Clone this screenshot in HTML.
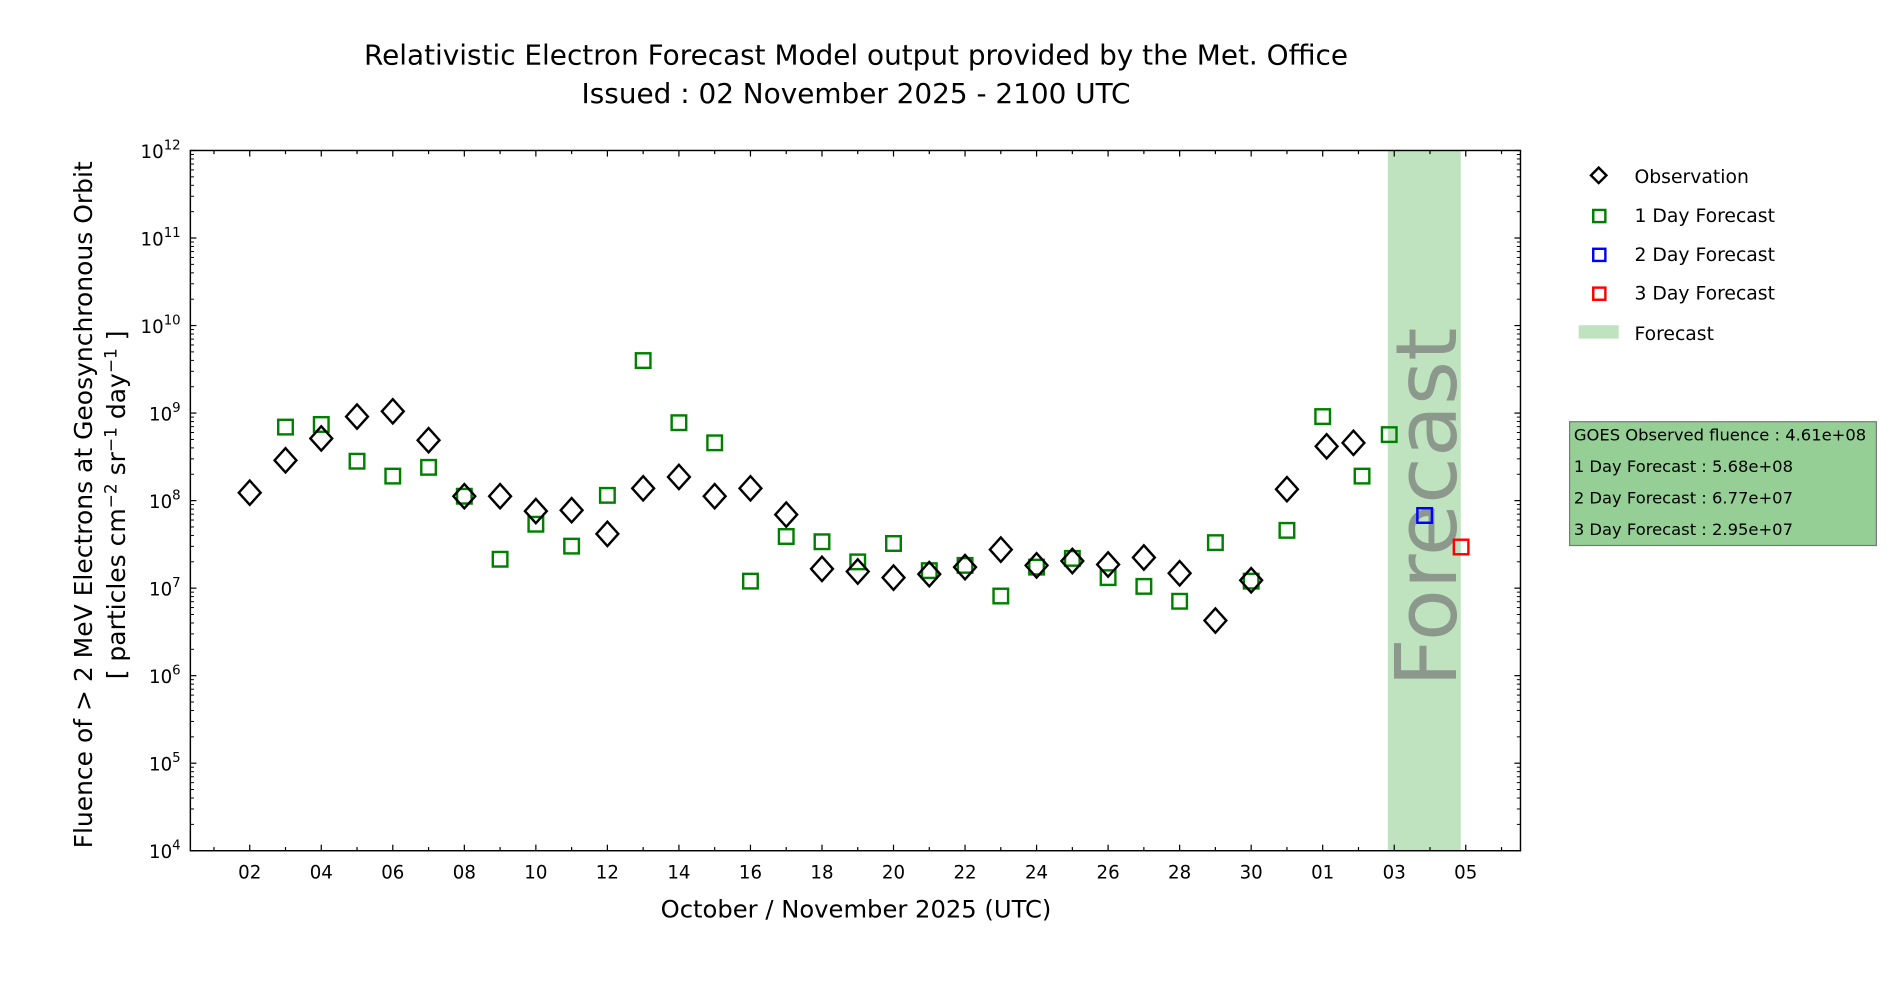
<!DOCTYPE html>
<html><head><meta charset="utf-8"><style>
html,body{margin:0;padding:0;background:#fff;}
svg{display:block;font-family:"DejaVu Sans","Liberation Sans",sans-serif;}
</style></head><body>
<svg id="chart" width="1900" height="1000" viewBox="0 0 1567 824" preserveAspectRatio="none" xmlns="http://www.w3.org/2000/svg">
<text x="706" y="53" font-size="23" text-anchor="middle">Relativistic Electron Forecast Model output provided by the Met. Office</text>
<text x="706" y="85" font-size="23" text-anchor="middle">Issued : 02 November 2025 - 2100 UTC</text>
<rect id="band" fill="#bfe3bf"/>
<g id="forecastText"></g>
<g id="ticks"></g>
<g id="marks"></g>
<rect x="157" y="124" width="1097" height="577" fill="none" stroke="#000" stroke-width="1.2"/>
<text x="706" y="756" font-size="20" text-anchor="middle">October / November 2025 (UTC)</text>
<g font-size="20.6" text-anchor="middle">
<text transform="translate(76,416) rotate(-90)">Fluence of &gt; 2 MeV Electrons at Geosynchronous Orbit</text>
<text transform="translate(103,416) rotate(-90)">[ particles cm<tspan dy="-7" font-size="14">−2</tspan><tspan dy="7"> sr</tspan><tspan dy="-7" font-size="14">−1</tspan><tspan dy="7"> day</tspan><tspan dy="-7" font-size="14">−1</tspan><tspan dy="7"> ]</tspan></text>
</g>
<g font-size="15.5">
<rect x="1314" y="140" width="9" height="9" transform="rotate(45 1318.5 144.5)" fill="none" stroke="#000" stroke-width="2"/>
<text x="1348" y="151">Observation</text>
<rect x="1314" y="173" width="10" height="10" fill="none" stroke="green" stroke-width="2"/>
<text x="1348" y="183">1 Day Forecast</text>
<rect x="1314" y="205" width="10" height="10" fill="none" stroke="blue" stroke-width="2"/>
<text x="1348" y="215">2 Day Forecast</text>
<rect x="1314" y="237" width="10" height="10" fill="none" stroke="red" stroke-width="2"/>
<text x="1348" y="247">3 Day Forecast</text>
<rect x="1302" y="268" width="33" height="11" fill="#bfe3bf"/>
<text x="1348" y="280">Forecast</text>
</g>
<g font-size="13.5">
<rect x="1294.5" y="347.5" width="253" height="102" fill="#95cf95" stroke="#777" stroke-width="1"/>
<text x="1298" y="363">GOES Observed fluence : 4.61e+08</text>
<text x="1298" y="389">1 Day Forecast : 5.68e+08</text>
<text x="1298" y="415">2 Day Forecast : 6.77e+07</text>
<text x="1298" y="441">3 Day Forecast : 2.95e+07</text>
</g>
</svg>
<script>
// data: x in days since 1 Oct 2025, y = log10(fluence)
const obsDays=[1,2,3,4,5,6,7,8,9,10,11,12,13,14,15,16,17,18,19,20,21,22,23,24,25,26,27,28,29,30,31.11,31.86];
const obsLog=[8.09,8.46,8.71,8.96,9.02,8.69,8.05,8.05,7.88,7.89,7.62,8.14,8.27,8.05,8.14,7.84,7.22,7.19,7.12,7.16,7.24,7.44,7.26,7.31,7.27,7.35,7.17,6.63,7.09,8.13,8.62,8.66];
const f1Days=[2,3,4,5,6,7,8,9,10,11,12,13,14,15,16,17,18,19,20,21,22,23,24,25,26,27,28,29,30,31,32.1,32.86];
const f1Log=[8.84,8.87,8.45,8.28,8.38,8.05,7.33,7.73,7.48,8.06,9.60,8.89,8.66,7.08,7.59,7.53,7.30,7.51,7.20,7.26,6.91,7.24,7.34,7.12,7.02,6.85,7.52,7.08,7.66,8.96,8.28,8.754];
const f2Days=[33.85];
const f2Log=[7.83];
const f3Days=[34.87];
const f3Log=[7.47];
const bandRange=[32.82,34.86];
const xTickDays=[1,3,5,7,9,11,13,15,17,19,21,23,25,27,29,31,33,35];
const xTickLabels=["02","04","06","08","10","12","14","16","18","20","22","24","26","28","30","01","03","05"];
const yTickExp=[4,5,6,7,8,9,10,11,12];

const NS="http://www.w3.org/2000/svg";
const X0=157,X1=1254,Y0=124,Y1=701,XMIN=-0.66,XMAX=36.53,YMIN=4,YMAX=12;
function sx(d){return X0+(d-XMIN)/(XMAX-XMIN)*(X1-X0);}
function sy(l){return Y1-(l-YMIN)/(YMAX-YMIN)*(Y1-Y0);}
function mk(tag,attrs,parent){const e=document.createElementNS(NS,tag);for(const k in attrs)e.setAttribute(k,attrs[k]);parent.appendChild(e);return e;}

const band=document.getElementById('band');
band.setAttribute('x',sx(bandRange[0]));band.setAttribute('y',Y0);
band.setAttribute('width',sx(bandRange[1])-sx(bandRange[0]));band.setAttribute('height',Y1-Y0);
const ft=document.getElementById('forecastText');
const fx=(sx(bandRange[0])+sx(bandRange[1]))/2;
const t=mk('text',{x:0,y:0,transform:`translate(${fx+26},418) rotate(-90)`,'font-size':'70','text-anchor':'middle',fill:'#707070','fill-opacity':'0.65'},ft);


t.textContent='Forecast';

const tg=document.getElementById('ticks');
xTickDays.forEach((d,i)=>{
  const x=sx(d);
  const ln=mk('line',{x1:x,x2:x,y1:Y1,y2:Y1-5,stroke:'#000'},tg);
  
  
  mk('line',{x1:x,x2:x,y1:Y0,y2:Y0+5,stroke:'#000'},tg);
  const lb=mk('text',{x:x,y:Y1+23,'font-size':'15','text-anchor':'middle'},tg);
  
  
  lb.textContent=xTickLabels[i];
});
for(let d=0;d<=36;d+=2){const x=sx(d);if(x<X0||x>X1)continue;
  mk('line',{x1:x,x2:x,y1:Y1,y2:Y1-3,stroke:'#000'},tg);
  mk('line',{x1:x,x2:x,y1:Y0,y2:Y0+3,stroke:'#000'},tg);}
yTickExp.forEach(e=>{
  const y=sy(e);
  const ln=mk('line',{x1:X0,x2:X0+5,y1:y,y2:y,stroke:'#000'},tg);
  
  
  mk('line',{x1:X1,x2:X1-5,y1:y,y2:y,stroke:'#000'},tg);
  const lb=mk('text',{x:X0-8,y:y+6,'font-size':'15','text-anchor':'end'},tg);
  
  
  lb.innerHTML='10<tspan dy="-7" font-size="11">'+e+'</tspan>';
  if(e<12)for(let m=2;m<=9;m++){const yy=sy(e+Math.log10(m));
    mk('line',{x1:X0,x2:X0+3,y1:yy,y2:yy,stroke:'#000','stroke-width':0.8},tg);
    mk('line',{x1:X1,x2:X1-3,y1:yy,y2:yy,stroke:'#000','stroke-width':0.8},tg);}
});

const mg=document.getElementById('marks');
function squares(days,logs,color,name){
  days.forEach((d,i)=>{const x=sx(d),y=sy(logs[i]);
    const r=mk('rect',{x:x-6,y:y-6,width:12,height:12,fill:'none',stroke:color,'stroke-width':2},mg);
    
    });
}
squares(f1Days,f1Log,'green','forecast-1day-point');
squares(f2Days,f2Log,'blue','forecast-2day-point');
squares(f3Days,f3Log,'red','forecast-3day-point');
obsDays.forEach((d,i)=>{const x=sx(d),y=sy(obsLog[i]);
  const p=mk('path',{d:`M${x} ${y-10}L${x+9} ${y}L${x} ${y+10}L${x-9} ${y}Z`,fill:'none',stroke:'#000','stroke-width':2},mg);
  
  });
</script>
</body></html>
